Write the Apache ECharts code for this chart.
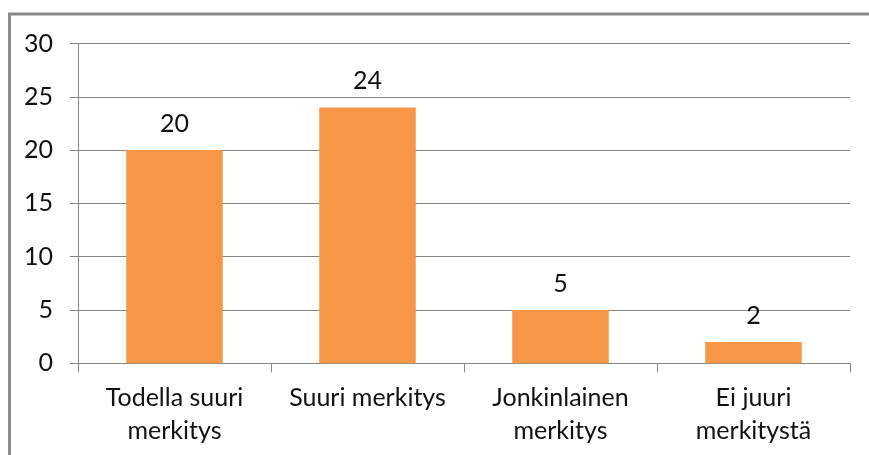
<!DOCTYPE html>
<html><head><meta charset="utf-8">
<script src="https://cdn.jsdelivr.net/npm/echarts@6/dist/echarts.min.js"></script>
<style>html,body{margin:0;padding:0;background:#fff}#c{width:869px;height:455px}</style>
</head><body><div id="c"></div>
<script>
const categories = ['Todella suuri\nmerkitys', 'Suuri merkitys', 'Jonkinlainen\nmerkitys', 'Ei juuri\nmerkitystä'];
const values = [20, 24, 5, 2];
const yTicks = [0, 5, 10, 15, 20, 25, 30];
const FONT = 'Lato';
const chart = echarts.init(document.getElementById('c'), null, {renderer: 'canvas'});
chart.setOption({
  animation: false,
  backgroundColor: '#fff',
  graphic: [{type: 'rect', shape: {x: 9.5, y: 14, width: 900, height: 500}, style: {fill: 'none', stroke: '#8a8a8a', lineWidth: 3}, silent: true}],
  grid: {left: 78, right: 19, top: 43.5, bottom: 91.7},
  xAxis: {
    type: 'category', data: categories,
    axisLine: {lineStyle: {color: '#868686', width: 1}},
    axisTick: {show: true, length: 9, alignWithLabel: false, lineStyle: {color: '#868686'}},
    axisLabel: {color: '#111', fontFamily: FONT, fontSize: 25, lineHeight: 33, margin: 18, interval: 0}
  },
  yAxis: {
    type: 'value', min: 0, max: 30, interval: 5,
    axisLine: {show: true, lineStyle: {color: '#868686', width: 1}},
    axisTick: {show: true, length: 8, lineStyle: {color: '#868686'}},
    splitLine: {show: true, lineStyle: {color: '#868686', width: 1}},
    axisLabel: {color: '#111', fontFamily: FONT, fontSize: 25, margin: 25,
      formatter: v => yTicks.includes(v) ? String(v) : ''}
  },
  series: [{
    type: 'bar', data: values, barWidth: '50%',
    itemStyle: {color: '#F79646'},
    label: {show: true, position: 'top', distance: 14, color: '#111', fontFamily: FONT, fontSize: 25}
  }]
});
</script></body></html>
